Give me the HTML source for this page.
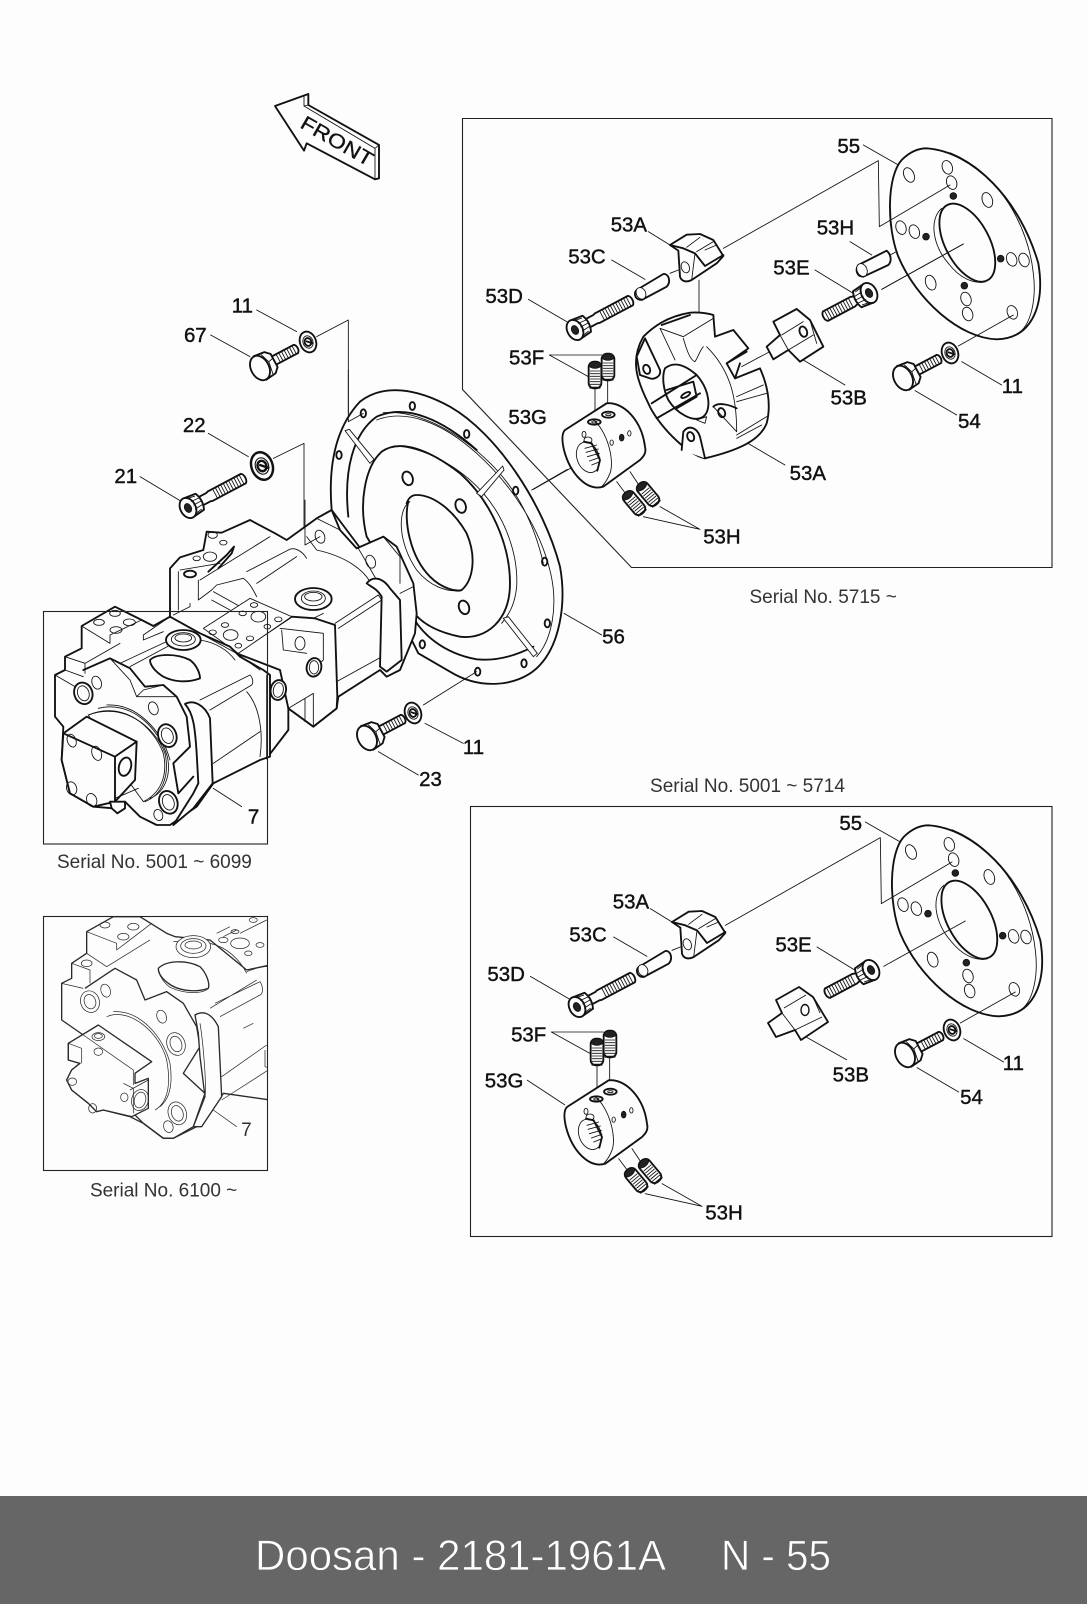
<!DOCTYPE html>
<html><head><meta charset="utf-8"><style>
html,body{margin:0;padding:0;background:#fdfdfd}
svg{display:block}
.z{fill:none;stroke:#111;stroke-width:2.6;stroke-linejoin:round;stroke-linecap:round}
.z .h,.h{stroke-width:5.6}
.z .f,.f{fill:#fdfdfd}
.z .d,.d{fill:#222}
.i{fill:none;stroke:#2a2a2a;stroke-width:2.2;stroke-linejoin:round}
.i .h{stroke-width:4}
.i .f{fill:#fdfdfd}
.l{fill:none;stroke:#222;stroke-width:.8}
text{font-family:"Liberation Sans",sans-serif}
.n{font-size:20px;fill:#111;text-anchor:middle;stroke:#111;stroke-width:.4}
.s{font-size:18.6px;fill:#333;text-anchor:middle}
</style></head><body>
<svg xmlns="http://www.w3.org/2000/svg" width="1087" height="1604" viewBox="0 0 1087 1604">
<defs>
<g id="sb"><path class="f h" d="M20,-14L70,-14L75,-16L188,-16C197,-10 197,10 188,16L75,16L70,14L20,14Z"/><path d="M92,-16V16M101,-16V16M110,-16V16M119,-16V16M128,-16V16M137,-16V16M146,-16V16M155,-16V16M164,-16V16M173,-16V16M182,-16V16"/><path class="f h" d="M0,-32L40,-27Q52,0 40,27L0,32Z"/><ellipse class="f h" rx="23" ry="32"/><ellipse class="d" rx="10" ry="14"/><path d="M12,-26L34,-22M18,-13L44,-11M20,0L46,0M18,13L44,11M12,26L34,22"/></g>
<g id="sb2"><path class="f h" d="M20,-14L50,-14L55,-16L148,-16C157,-10 157,10 148,16L55,16L50,14L20,14Z"/><path d="M62,-16V16M71,-16V16M80,-16V16M89,-16V16M98,-16V16M107,-16V16M116,-16V16M125,-16V16M134,-16V16M143,-16V16"/><path class="f h" d="M0,-32L40,-27Q52,0 40,27L0,32Z"/><ellipse class="f h" rx="23" ry="32"/><ellipse class="d" rx="10" ry="14"/><path d="M12,-26L34,-22M18,-13L44,-11M20,0L46,0M18,13L44,11M12,26L34,22"/></g>
<g id="hb"><path class="f h" d="M40,-14L122,-14C130,-8 130,8 122,14L40,14Z"/><path d="M62,-14V14M71,-14V14M80,-14V14M89,-14V14M98,-14V14M107,-14V14M116,-14V14"/><path class="f h" d="M0,-40L34,-36L48,-22L48,22L34,36L0,40Z"/><ellipse class="f h" rx="27" ry="39"/><path d="M22,-33L32,-4L26,34M32,-4L48,-8"/></g>
<g id="wa"><ellipse class="f h" rx="24" ry="32" transform="rotate(-20)"/><ellipse class="f" rx="15" ry="19" transform="rotate(-20)"/><ellipse class="h" rx="10" ry="12" transform="rotate(-20)"/><path class="h" d="M-4,-2L14,4"/></g>
<g id="ss"><rect class="f h" x="-19" y="-40" width="38" height="80" rx="16"/><ellipse class="d" cy="-30" rx="18" ry="10"/><path class="h" d="M-14,38H14"/><path d="M-14,-12H14M-14,-4H14M-14,4H14M-14,12H14M-14,20H14M-14,28H14"/></g>
<g id="pin"><path class="f h" d="M290,480L370,432C386,430 394,455 380,470L305,510C285,510 280,490 290,480Z"/><ellipse class="f" cx="303" cy="490" rx="14" ry="18" transform="rotate(-25 303 490)"/></g>
<g id="wedge"><path class="f h" d="M415,362L420,440C425,455 440,458 455,450L530,400L550,378L520,330L480,312L440,314L390,345L415,362Z"/><path class="h" d="M390,345L430,355L465,370L495,408L550,375"/><path d="M440,352L480,322M470,365L520,335M495,360L530,345"/><ellipse class="f" cx="436" cy="412" rx="12" ry="17" transform="rotate(-20 436 412)"/><path d="M465,370L455,450"/></g>
<g id="disc"><path class="f h" d="M1160,55C1300,65 1440,210 1495,400C1515,520 1480,625 1370,628C1260,625 1130,510 1075,380C1040,290 1040,140 1085,90C1105,70 1130,55 1160,55Z"/>
<path d="M1230,68C1380,130 1465,290 1480,430C1490,510 1472,580 1440,606"/>
<path d="M1205,235C1165,270 1180,350 1225,400C1260,445 1300,462 1335,456"/>
<ellipse class="h" cx="1282" cy="338" rx="66" ry="128" transform="rotate(-28 1282 338)"/>
<ellipse cx="1107" cy="135" rx="15" ry="23" transform="rotate(-25 1107 135)"/><ellipse cx="1222" cy="112" rx="15" ry="21" transform="rotate(-20 1222 112)"/><ellipse class="f" cx="1235" cy="158" rx="15" ry="21" transform="rotate(-20 1235 158)"/><ellipse cx="1342" cy="210" rx="15" ry="23" transform="rotate(-20 1342 210)"/><ellipse cx="1083" cy="293" rx="15" ry="21" transform="rotate(-20 1083 293)"/><ellipse cx="1123" cy="305" rx="15" ry="21" transform="rotate(-20 1123 305)"/><ellipse cx="1415" cy="388" rx="15" ry="21" transform="rotate(-20 1415 388)"/><ellipse cx="1452" cy="390" rx="15" ry="21" transform="rotate(-20 1452 390)"/><ellipse cx="1172" cy="458" rx="15" ry="23" transform="rotate(-20 1172 458)"/><ellipse cx="1278" cy="507" rx="15" ry="21" transform="rotate(-20 1278 507)"/><ellipse cx="1283" cy="552" rx="15" ry="21" transform="rotate(-20 1283 552)"/><ellipse class="f" cx="1417" cy="547" rx="15" ry="21" transform="rotate(-20 1417 547)"/>
<circle class="d" cx="1240" cy="198" r="10"/><circle class="d" cx="1382" cy="386" r="10"/><circle class="d" cx="1273" cy="467" r="10"/><circle class="d" cx="1158" cy="320" r="10"/></g>
<g id="bush"><path class="f h" d="M315,510L440,430C490,425 545,480 555,560C560,580 550,590 540,600L430,680C380,695 330,640 312,570C305,540 305,520 315,510Z"/>
<path d="M400,480C440,510 465,600 450,640C440,665 430,675 425,680"/>
<ellipse cx="384" cy="592" rx="33" ry="47" transform="rotate(-20 384 592)"/>
<path class="h" d="M372,545L395,550L420,600L412,632"/><path d="M375,565L410,555M378,577L415,567M382,590L418,580M388,603L420,592M395,615L420,605"/>
<ellipse class="f" cx="372" cy="523" rx="6" ry="9"/><ellipse cx="384" cy="540" rx="12" ry="9"/>
<ellipse class="h" cx="403" cy="486" rx="19" ry="8"/><ellipse class="h" cx="445" cy="464" rx="19" ry="9"/><ellipse cx="403" cy="486" rx="8" ry="3"/><ellipse cx="445" cy="464" rx="8" ry="3"/>
<ellipse cx="455" cy="548" rx="5" ry="8"/><ellipse class="d" cx="485" cy="533" rx="7" ry="10"/><ellipse cx="508" cy="520" rx="5" ry="8"/></g>
<g id="shared">
<g class="z" transform="translate(540,130) scale(.33333)">
<use href="#disc"/>
<path d="M550,355L1015,92L1018,290L1230,165M1025,478L1270,342M1255,648L1420,555M970,45L1075,105M325,305L390,345M215,390L315,448M825,420L940,490M1125,782L1250,855M1265,695L1385,765M390,430L415,420"/>
<use href="#wedge"/><use href="#pin"/>
</g>
<use class="z" href="#sb" transform="translate(575,330) rotate(-28) scale(.33333)"/>
<use class="z" href="#sb2" transform="translate(869,293) rotate(152) scale(.33333)"/>
<use class="z" href="#hb" transform="translate(903,378) rotate(-28) scale(.33333)"/>
<use class="z" href="#wa" transform="translate(950,353) scale(.33333)"/>
<g class="z" transform="translate(460,260) scale(.33333)">
<path d="M205,118L320,185M268,285L385,350M268,285L425,285M405,385V480M443,360V455M470,665L500,705M510,635L540,680M600,740L720,808M550,770L720,808"/>
<use href="#bush"/>
</g>
<use class="z" href="#ss" transform="translate(595,375) scale(.33333)"/>
<use class="z" href="#ss" transform="translate(608,367) scale(.33333)"/>
<use class="z" href="#ss" transform="translate(634,503) rotate(-40) scale(.33333)"/>
<use class="z" href="#ss" transform="translate(648,494) rotate(-40) scale(.33333)"/>
</g>
</defs>
<rect width="1087" height="1604" fill="#fdfdfd"/>

<!-- front arrow -->
<g class="z" transform="translate(100,80) scale(.33333)">
<path class="f h" d="M525,78L625,42L625,75L837,195L837,295L825,298L620,190L612,212Z"/>
<path d="M612,50L612,78L825,205L825,298M625,75L612,78M837,195L825,205"/>
</g>
<text transform="translate(299,127) rotate(30)" font-size="20" fill="#111" stroke="#111" stroke-width=".3" textLength="80" lengthAdjust="spacingAndGlyphs">FRONT</text>

<!-- flange 56 -->
<g class="z" transform="translate(310,370) scale(.33333)">
<path class="f h" d="M65,420C55,300 70,180 150,95C220,40 320,55 420,110C560,190 700,400 750,590C770,700 750,830 680,895C620,950 510,960 420,905L325,850L200,600Z"/>
<path class="h" d="M115,440C100,300 130,190 200,140C290,100 400,150 500,240"/>
<path d="M200,150C290,115 400,160 500,250C600,340 690,470 722,610C745,710 725,810 680,860M220,128C310,120 420,170 520,260C610,340 670,450 700,580"/>
<path class="h" d="M300,725C330,790 400,850 500,868C570,875 630,850 670,830"/>
<path class="f h" d="M170,500C145,400 165,290 215,245C270,205 360,240 450,310C540,390 600,520 600,640C600,750 530,810 450,800C400,790 340,770 305,720Z"/>
<path d="M250,228C340,230 450,290 520,370C590,450 625,560 620,650C615,700 600,730 575,760"/>
<path class="f" d="M105,182L118,178L192,268L180,280Z"/><path class="f" d="M500,370L578,288L582,300L515,380Z"/><path class="f" d="M580,745L595,740L682,850L670,860Z"/>
<ellipse cx="293" cy="325" rx="15" ry="21" class="h" transform="rotate(-20 293 325)"/><ellipse cx="452" cy="408" rx="15" ry="21" class="h" transform="rotate(-20 452 408)"/><ellipse cx="462" cy="712" rx="15" ry="21" class="h" transform="rotate(-20 462 712)"/>
<path d="M300,395C260,420 265,520 320,600C360,650 410,665 445,662"/>
<path class="h" d="M295,395C280,450 300,560 360,620C400,660 445,665 455,660C490,630 500,560 470,490C430,420 370,375 320,375C305,375 295,385 290,400"/>
<ellipse cx="160" cy="130" rx="8" ry="12" class="h"/><ellipse cx="307" cy="108" rx="8" ry="12" class="h"/><ellipse cx="470" cy="192" rx="8" ry="12" class="h"/><ellipse cx="617" cy="362" rx="8" ry="12" class="h"/><ellipse cx="704" cy="575" rx="8" ry="12" class="h"/><ellipse cx="712" cy="760" rx="8" ry="12" class="h"/><ellipse cx="642" cy="880" rx="8" ry="12" class="h"/><ellipse cx="503" cy="905" rx="8" ry="12" class="h"/><ellipse cx="337" cy="823" rx="8" ry="12" class="h"/><ellipse cx="87" cy="255" rx="8" ry="12" class="h"/>
<path d="M762,730L875,795M670,358L790,290M340,1005L500,905M345,1060L460,1120M205,1145L325,1215M115,0V155L160,130"/>
</g>

<!-- leaders top-left -->
<g class="z" transform="translate(100,80) scale(.33333)">
<path d="M470,690L590,755M332,765L450,830M650,770L745,720V1000M325,1060L445,1130M520,1135L612,1090V1380M120,1190L240,1262"/>
</g>
<use class="z" href="#hb" transform="translate(260,368) rotate(-28) scale(.33333)"/>
<use class="z" href="#wa" transform="translate(308,342) scale(.33333)"/>
<use class="z" href="#sb" transform="translate(188,508) rotate(-28) scale(.33333)"/>
<use class="z" href="#wa" transform="translate(262,466) scale(.44)"/>
<use class="z" href="#hb" transform="translate(367,738) rotate(-28) scale(.33333)"/>
<use class="z" href="#wa" transform="translate(413,713) scale(.33333)"/>

<!-- rear pump -->
<g class="z" transform="translate(30,500) scale(.33333)">
<path class="f h" d="M420,205L450,172L520,150L530,95L575,98L660,60L735,100L770,120L860,55L905,30L930,90L980,145L1060,110L1100,140L1150,250L1160,340L1155,400L1110,510L1070,530L1050,510L925,590L920,625L850,680L775,625L775,690L710,775L420,400Z"/>
<path d="M825,0V135L870,110M860,150C950,170 1000,210 1020,245M860,55L930,90M860,150L830,110M1060,110L1110,170L1110,250M985,145L1040,240M1150,260L1110,280"/>
<path d="M510,240L720,110M650,215L775,150C790,140 815,150 830,175M680,250L800,170M445,215V330M450,210L570,190M505,240V300L545,270L560,255L640,235C660,250 670,270 680,290M550,275L640,325M545,300L600,330"/>
<path class="h" d="M535,215L590,165L612,140L605,160L565,205"/>
<ellipse cx="480" cy="222" rx="18" ry="10" class="h"/><ellipse cx="500" cy="175" rx="11" ry="7"/><ellipse cx="580" cy="128" rx="11" ry="7"/><ellipse cx="548" cy="105" rx="14" ry="10"/><ellipse cx="540" cy="170" rx="20" ry="14"/>
<ellipse cx="870" cy="110" rx="14" ry="20" transform="rotate(-20 870 110)"/><ellipse cx="1022" cy="185" rx="14" ry="20" transform="rotate(-20 1022 185)"/>
<ellipse cx="850" cy="297" rx="55" ry="33" class="f h"/><ellipse cx="850" cy="295" rx="36" ry="22"/><ellipse cx="850" cy="290" rx="26" ry="13"/>
<path d="M915,370L1045,285L1055,300L925,385M820,370L880,340M1060,330C1100,400 1080,450 1070,480M920,545L1065,465"/>
<path class="f h" d="M1010,250C1030,225 1060,235 1080,265L1110,300L1115,480L1070,515L1050,500L1055,290C1040,265 1025,262 1010,250Z"/>
<path class="f h" d="M855,355L915,375L922,590L920,625L850,680L775,625L750,510L620,460L785,350Z"/>
<path d="M750,385L880,400V480L845,510M755,390L760,450L830,460M775,625L850,580V680M825,595V665"/>
<ellipse cx="810" cy="430" rx="15" ry="20"/><ellipse cx="852" cy="502" rx="22" ry="28" class="f h" transform="rotate(10 852 502)"/><ellipse cx="852" cy="502" rx="14" ry="20"/>
<path class="f" d="M520,385L660,295L785,350L625,460Z"/>
<ellipse cx="548" cy="397" rx="11" ry="7"/><ellipse cx="585" cy="375" rx="11" ry="7"/><ellipse cx="602" cy="405" rx="22" ry="16"/><ellipse cx="625" cy="437" rx="10" ry="7"/><ellipse cx="660" cy="415" rx="11" ry="7"/><ellipse cx="638" cy="340" rx="11" ry="7"/><ellipse cx="672" cy="315" rx="11" ry="7"/><ellipse cx="685" cy="350" rx="22" ry="16"/><ellipse cx="745" cy="358" rx="11" ry="7"/><ellipse cx="712" cy="380" rx="10" ry="7"/>
</g>

<!-- front pump -->
<g class="z" transform="translate(30,500) scale(.33333)">
<path class="f h" d="M75,525L105,510L105,470L155,445L155,378L255,320L335,360L370,378L420,350L510,400L600,440L630,470L700,510L720,525V770L690,780L550,850L500,920L420,975H380L330,950L285,905L250,925L190,920L120,880L95,780L100,680L75,650Z"/>
<path d="M155,378L240,430V405L335,360M105,470L165,490L270,430M105,510L160,530M75,525L135,560M165,490V520M340,405L420,350L510,400M340,405V420L400,395M430,345L480,320V310M510,400L620,460L690,510"/>
<ellipse cx="207" cy="367" rx="16" ry="9"/><ellipse cx="298" cy="367" rx="18" ry="10"/><ellipse cx="255" cy="340" rx="16" ry="9"/><ellipse cx="258" cy="390" rx="18" ry="10"/>
<path d="M270,490L420,420M300,500L430,430M510,420C570,430 600,460 615,480"/>
<ellipse cx="460" cy="420" rx="52" ry="30" class="f h"/><ellipse cx="460" cy="418" rx="36" ry="20"/><ellipse cx="460" cy="414" rx="25" ry="12"/>
<path class="h" d="M360,480C380,460 440,460 480,480C500,495 510,520 510,535C470,550 430,545 400,530C375,515 360,495 360,480Z"/>
<path class="h" d="M160,510L240,475L300,505L345,560L400,555L440,590L470,650L480,740L430,790L445,880L490,830"/>
<path d="M320,590L340,570L400,555M240,475L300,540L320,590L440,590"/>
<path d="M510,600L660,525C670,535 670,550 665,555L540,630M650,575C690,620 700,700 690,770M550,790L690,695"/>
<path class="f h" d="M465,612C490,598 525,615 540,655L548,850L490,925L430,975L490,880L505,850L500,760C495,680 490,640 465,612Z"/>
<path d="M720,525V770M710,525V775"/>
<ellipse cx="160" cy="580" rx="27" ry="33" class="f h" transform="rotate(-20 160 580)"/><ellipse cx="160" cy="580" rx="17" ry="23" transform="rotate(-20 160 580)"/><ellipse cx="200" cy="548" rx="14" ry="20" transform="rotate(-20 200 548)"/><ellipse cx="370" cy="625" rx="14" ry="20" transform="rotate(-20 370 625)"/><ellipse cx="385" cy="945" rx="13" ry="17" transform="rotate(-20 385 945)"/>
<ellipse cx="745" cy="570" rx="23" ry="30" class="f h" transform="rotate(10 745 570)"/><ellipse cx="745" cy="570" rx="15" ry="22" transform="rotate(10 745 570)"/>
<path class="f" d="M175,645C280,600 370,680 400,760C415,830 390,880 340,905L250,780Z"/>
<path d="M175,645C280,605 375,680 405,760C420,830 395,885 345,905M205,625C300,600 385,680 412,770C425,830 400,880 360,895M230,615C320,610 395,690 420,780"/>
<ellipse cx="412" cy="707" rx="27" ry="35" class="f h" transform="rotate(-20 412 707)"/><ellipse cx="412" cy="707" rx="17" ry="24" transform="rotate(-20 412 707)"/><ellipse cx="415" cy="907" rx="27" ry="35" class="f h" transform="rotate(-20 415 907)"/><ellipse cx="415" cy="907" rx="17" ry="24" transform="rotate(-20 415 907)"/>
<path class="f h" d="M100,700L170,650L320,725L315,840L255,905L190,920L120,880L95,780Z"/>
<path class="h" d="M100,700L255,770L320,725M255,770V905"/>
<path d="M255,895L325,865"/>
<ellipse cx="125" cy="722" rx="13" ry="20" transform="rotate(-20 125 722)"/><ellipse cx="200" cy="760" rx="14" ry="22" transform="rotate(-20 200 760)"/><ellipse cx="285" cy="800" rx="18" ry="28" class="h" transform="rotate(15 285 800)"/><ellipse cx="125" cy="865" rx="15" ry="20" transform="rotate(-20 125 865)"/><ellipse cx="185" cy="900" rx="15" ry="20" transform="rotate(-20 185 900)"/>
<path class="f h" d="M240,905L285,905V925L262,940L245,925Z"/>
<path d="M550,865L635,920"/>
</g>

<!-- inset 2 -->
<svg x="43" y="916" width="225" height="255" viewBox="13 16 225 255" overflow="hidden">
<g transform="scale(.33333)" class="i">
<path class="f h" d="M95,250L125,235V190L170,160V95L250,50L330,50L410,100L435,110L540,120L650,210L720,195V600L580,580L540,640L500,680L430,715L400,715L340,670L300,650L220,630L200,635L175,610L125,570L110,540L125,510L150,490L115,480L115,430L160,405L95,360Z"/>
<path d="M170,95L260,130V150L365,70M170,160L230,200L360,120M125,190L180,210V250M95,250L160,265M430,125L530,120M540,130C590,140 630,180 650,220"/>
<ellipse cx="225" cy="75" rx="15" ry="9"/><ellipse cx="310" cy="80" rx="17" ry="10"/><ellipse cx="280" cy="110" rx="17" ry="10"/><ellipse cx="170" cy="190" rx="16" ry="10"/>
<ellipse cx="490" cy="140" rx="52" ry="33" class="f"/><ellipse cx="490" cy="138" rx="38" ry="22"/><ellipse cx="490" cy="135" rx="25" ry="12"/>
<path class="h" d="M385,205C410,180 470,180 510,200C530,220 540,250 535,265C490,280 440,270 415,250C395,235 385,220 385,205Z"/>
<path d="M385,205V215C395,240 410,255 420,262C470,285 520,280 535,265M560,100L600,80M580,110L620,90M630,100L710,60"/><ellipse cx="580" cy="120" rx="14" ry="8"/><ellipse cx="630" cy="130" rx="28" ry="16"/><ellipse cx="655" cy="160" rx="11" ry="7"/><ellipse cx="690" cy="135" rx="12" ry="7"/><ellipse cx="615" cy="95" rx="12" ry="6"/><ellipse cx="670" cy="60" rx="12" ry="7"/>
<path class="h" d="M165,265L255,205L320,240L345,300L410,275L460,310L500,380L510,440L460,520L525,580L490,680L430,715H400L340,670L300,630"/>
<ellipse cx="180" cy="305" rx="28" ry="33" transform="rotate(-20 180 305)"/><ellipse cx="180" cy="305" rx="17" ry="22" transform="rotate(-20 180 305)"/><ellipse cx="227" cy="272" rx="14" ry="20" transform="rotate(-20 227 272)"/><ellipse cx="395" cy="350" rx="14" ry="20" transform="rotate(-20 395 350)"/><ellipse cx="415" cy="680" rx="14" ry="18" transform="rotate(-20 415 680)"/>
<ellipse cx="438" cy="432" rx="27" ry="35" class="f" transform="rotate(-20 438 432)"/><ellipse cx="438" cy="432" rx="17" ry="24" transform="rotate(-20 438 432)"/><ellipse cx="442" cy="640" rx="27" ry="35" class="f" transform="rotate(-20 442 640)"/><ellipse cx="442" cy="640" rx="17" ry="24" transform="rotate(-20 442 640)"/>
<path d="M230,350C300,320 390,400 410,480C425,560 410,610 375,630M250,335C330,330 400,410 420,490C430,560 415,600 390,620"/>
<path class="f h" d="M115,430L205,375L365,485L315,520V550L355,535V625L305,650L220,630L200,635L175,610L125,570L110,540L125,510L150,490L115,480Z"/>
<path d="M115,430L155,445V490M160,405L310,510V555M280,550L310,565V640M300,570L355,540"/>
<ellipse cx="205" cy="410" rx="19" ry="12"/><ellipse cx="205" cy="408" rx="12" ry="7"/><ellipse cx="205" cy="455" rx="13" ry="11"/><ellipse cx="283" cy="592" rx="11" ry="13"/><ellipse cx="330" cy="600" rx="25" ry="32" transform="rotate(15 330 600)"/><ellipse cx="330" cy="600" rx="17" ry="24" transform="rotate(15 330 600)"/><ellipse cx="127" cy="545" rx="13" ry="11"/><ellipse cx="188" cy="625" rx="12" ry="14"/>
<path class="f h" d="M495,345C520,330 545,340 565,380L575,590L515,680L490,680L525,590L510,470L505,400Z"/>
<path d="M510,370C520,430 530,560 525,590"/>
<path d="M540,325L680,240M640,385L670,370M575,530L710,435M705,450V500L720,505M650,215C700,195 720,200 720,200M555,310L690,245C700,260 700,280 690,285L570,350M575,600L715,510M550,630L620,680"/>
</g></svg>

<!-- upper panel parts -->
<g class="z" transform="translate(540,130) scale(.33333)">
<path d="M477,450V620M605,710L695,662M615,935L735,1005M790,690L915,765"/>
<path class="f h" d="M310,620C340,590 380,560 450,548C490,545 520,555 520,555L525,620L580,600L625,655L560,700L585,745L660,715C680,760 695,820 680,880C660,930 600,960 495,985C440,975 350,880 325,820C290,750 270,690 310,620Z"/>
<path d="M360,595L405,690M430,625C440,660 450,690 465,695C475,680 480,660 490,650M430,620L520,565M360,595L430,620M500,650C570,720 590,800 590,905M590,800L670,765M590,815L680,790M590,915L680,860M590,925L665,885"/>
<path class="h" d="M365,585L450,555M560,700L620,665M585,745L600,700"/>
<path class="f h" d="M375,715C400,695 430,700 470,735C510,780 515,840 490,860C460,880 410,850 385,810C370,780 365,740 375,715Z"/>
<path class="h" d="M335,820L470,735M350,865L480,790M380,780L460,755L470,800L410,835"/>
<ellipse class="h" cx="437" cy="795" rx="15" ry="6" transform="rotate(-30 437 795)"/>
<path class="f h" d="M290,680L315,625L360,720C365,740 340,750 330,745L300,735Z"/><ellipse class="h" cx="320" cy="718" rx="10" ry="14" transform="rotate(-20 320 718)"/>
<path class="f h" d="M425,960L430,905C445,885 470,890 480,920L495,985"/><ellipse class="h" cx="452" cy="920" rx="10" ry="14" transform="rotate(-20 452 920)"/>
<path class="h" d="M520,830C535,815 570,825 590,835"/><path d="M520,830L590,905"/><ellipse class="h" cx="545" cy="848" rx="10" ry="14" transform="rotate(-20 545 848)"/>
<path d="M470,870L500,860L495,880Z"/>
<path d="M930,335L995,375"/>
<path class="f h" d="M700,575L770,537L810,570L850,650L780,695L745,660L700,688L680,650L720,615Z"/>
<path d="M725,615L790,575M745,660L720,615M745,660L820,615M810,570L830,640"/>
<ellipse class="h" cx="790" cy="605" rx="11" ry="16" transform="rotate(-20 790 605)"/>
<path d="M1050,375L1158,320"/>
<path class="f h" d="M955,405L1040,362C1055,375 1055,395 1045,405L970,440C950,440 945,420 955,405Z"/><ellipse class="f" cx="966" cy="420" rx="15" ry="20" transform="rotate(-25 966 420)"/>
</g>
<g class="z" transform="translate(460,260) scale(.33333)"><path d="M215,690L322,628"/></g>

<use href="#shared"/>
<use href="#shared" transform="translate(2,677)"/>
<g class="z" transform="translate(540,130) scale(.33333)"><path d="M1025,478L1270,342"/></g>

<!-- lower panel 53B and 53G leader -->
<path fill="none" stroke="#111" stroke-width=".85" d="M799,1033L847,1060M527,1080L565,1105"/>
<path fill="#fdfdfd" stroke="#111" stroke-width="1.8" stroke-linejoin="round" d="M776,1000L799,987L813,997L828,1022L801,1040L795,1030L776,1037L768,1023L782,1013Z"/>
<path fill="none" stroke="#111" stroke-width=".85" d="M784,1008L806,995M795,1030L782,1013M795,1030L822,1017M813,997L820,1013"/>
<ellipse cx="805" cy="1010" rx="4" ry="5.5" fill="none" stroke="#111" stroke-width="1.4"/>

<!-- frames -->
<path class="l" style="stroke-width:1.1" d="M462.5,118.5H1052V567.5H631.5L462.5,389.5Z"/>
<rect class="l" style="stroke-width:1.1" x="470.5" y="806.5" width="581.5" height="430"/>
<rect class="l" style="stroke-width:1.1" x="43.5" y="611.5" width="224" height="232.5"/>
<rect class="l" style="stroke-width:1.1" x="43.5" y="916.5" width="224" height="254"/>

<!-- labels -->
<g transform="scale(1.02258)">
<text class="n" x="237" y="305.5">11</text><text class="n" x="191" y="334.5">67</text><text class="n" x="190" y="422.5">22</text><text class="n" x="123" y="472.5">21</text><text class="n" x="463" y="737.5">11</text><text class="n" x="421" y="768.5">23</text><text class="n" x="600" y="629.5">56</text><text class="n" x="248" y="805.5">7</text>
<text class="n" x="615" y="226.5">53A</text><text class="n" x="574" y="257.5">53C</text><text class="n" x="493" y="296.5">53D</text><text class="n" x="515" y="356.5">53F</text><text class="n" x="516" y="414.5">53G</text><text class="n" x="706" y="531.5">53H</text><text class="n" x="790" y="469.5">53A</text><text class="n" x="830" y="395.5">53B</text><text class="n" x="774" y="268.5">53E</text><text class="n" x="817" y="229.5">53H</text><text class="n" x="830" y="149.5">55</text><text class="n" x="990" y="384.5">11</text><text class="n" x="948" y="418.5">54</text>
<text class="n" x="832" y="811.5">55</text><text class="n" x="617" y="888.5">53A</text><text class="n" x="575" y="920.5">53C</text><text class="n" x="495" y="959.5">53D</text><text class="n" x="517" y="1018.5">53F</text><text class="n" x="493" y="1063.5">53G</text><text class="n" x="708" y="1192.5">53H</text><text class="n" x="832" y="1057.5">53B</text><text class="n" x="776" y="930.5">53E</text><text class="n" x="991" y="1046.5">11</text><text class="n" x="950" y="1079.5">54</text>
<text class="s" x="805" y="589.5">Serial No. 5715 ~</text><text class="s" x="731" y="774.5">Serial No. 5001 ~ 5714</text><text class="s" x="151" y="849">Serial No. 5001 ~ 6099</text><text class="s" x="160" y="1170">Serial No. 6100 ~</text><text class="s" x="241" y="1111">7</text>
</g>

<!-- footer -->
<rect x="0" y="1496" width="1087" height="108" fill="#666"/>
<text x="255" y="1570" font-size="43" fill="#fff" stroke="#666" stroke-width=".7" textLength="411" lengthAdjust="spacingAndGlyphs">Doosan - 2181-1961A</text>
<text x="721" y="1570" font-size="43" fill="#fff" stroke="#666" stroke-width=".7" textLength="110" lengthAdjust="spacingAndGlyphs">N - 55</text>
</svg>
</body></html>
